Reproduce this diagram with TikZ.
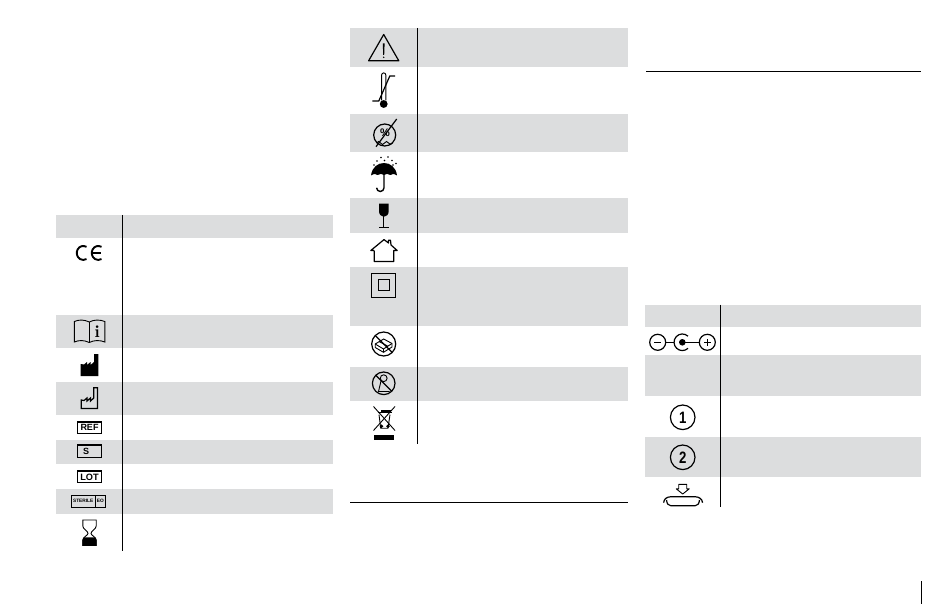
\documentclass[tikz,border=0pt]{standalone}
\usepackage{fontspec}
\setmainfont{Liberation Sans}
\tikzset{
  band/.style={fill=bandgray,draw=none},
  divline/.style={draw=black,line width=1.3pt},
  rulerline/.style={draw=black,line width=0.8pt},
  icon/.style={draw=black,line width=1.2pt,line join=miter},
  thinicon/.style={draw=black,line width=0.9pt},
  solidicon/.style={fill=black,draw=none},
  boxicon/.style={draw=black,line width=1.2pt},
  label/.style={inner sep=0pt,font=\bfseries}
}
\definecolor{bandgray}{RGB}{220,221,222}
\begin{document}
\begin{tikzpicture}[x=1pt,y=-1pt]
\useasboundingbox (0,0) rectangle (950,604);
% Table 1 bands
\foreach \a/\b in {215/237.5,315/348,382/415,440/463.5,489/514}
  \fill[band] (56,\a) rectangle (333,\b);
\draw[divline] (122.3,215) -- (122.3,551);
% Table 2 bands
\foreach \a/\b in {28/66.7,114/152,198/233,267/326,367/401}
  \fill[band] (350,\a) rectangle (628,\b);
\draw[divline] (417.5,28) -- (417.5,444);
\draw[rulerline] (350,502.3) -- (628,502.3);
% Table 3 bands
\foreach \a/\b in {304.5/327,355/396,437/477}
  \fill[band] (644.5,\a) rectangle (921,\b);
\draw[divline] (720.3,304.5) -- (720.3,507);
\draw[rulerline] (646,71) -- (921,71);
\draw[divline] (921.5,581) -- (921.5,604);
% CE
\draw[black,line width=1.9pt] (86.5,246.9) arc[start angle=60,end angle=300,x radius=6.5,y radius=-7];
\draw[black,line width=1.9pt] (101.5,246.9) arc[start angle=60,end angle=300,x radius=6.5,y radius=-7];
\draw[black,line width=1.6pt] (92.5,253) -- (100.5,253);
% book
\draw[thinicon] (89.3,322) .. controls (84,319.5) and (79,319.5) .. (74.3,321.5) -- (74.3,342)
  .. controls (79,340) and (84,340) .. (89.3,342.5) .. controls (94,340) and (100,340) .. (104.8,342) -- (104.8,321.5)
  .. controls (100,319.5) and (94,319.5) .. (89.3,322) -- cycle;
\draw[thinicon] (89.3,322) -- (89.3,342.5);
\node[label,font=\fontsize{17}{17}\fontfamily{lmr}\bfseries\selectfont] (bookI) at (97.2,331.5) {i};
% factory solid
\fill[solidicon] (80.7,376) -- (80.7,364) -- (84,364.5) -- (87,362) -- (87,365) -- (90.5,362) -- (90.5,365) -- (94,362) -- (94,354) -- (98.3,354) -- (98.3,376) -- cycle;
% factory outline
\draw[icon] (81.2,408.5) -- (81.2,400) -- (84,400.5) -- (87,398) -- (87,401) -- (90.5,398) -- (90.5,401) -- (93.8,398) -- (93.8,387.8) -- (97.5,387.8) -- (97.5,408.5) -- cycle;
% label boxes
\draw[boxicon] (77.2,422) rectangle (101.7,433.3);
\node[label,font=\fontsize{9}{9}\selectfont\bfseries] (refT) at (89.5,427.8) {REF};
\draw[boxicon] (77.2,445) rectangle (101.7,457.7);
\node[label,font=\fontsize{9}{9}\selectfont\bfseries] (sT) at (86,451.3) {S};
\draw[boxicon] (77.2,471) rectangle (101.7,482.7);
\node[label,font=\fontsize{9.2}{9}\selectfont\bfseries] (lotT) at (89.5,476.9) {LOT};
\draw[thinicon] (71.2,495.3) rectangle (105.7,507.2);
\draw[thinicon] (95,495.3) -- (95,507.2);
\node[label,font=\fontsize{4.8}{5}\selectfont\bfseries] (stT) at (83.2,501.3) {STERILE};
\node[label,font=\fontsize{4.8}{5}\selectfont\bfseries] (eoT) at (100.4,501.3) {EO};
% hourglass
\draw[thinicon] (82.8,520) -- (96.2,520) -- (96.2,526) .. controls (96.2,529) and (91,531) .. (91,533.3) .. controls (91,535.5) and (96.2,537) .. (96.2,540) -- (96.2,545.5) -- (82.8,545.5) -- (82.8,540) .. controls (82.8,537) and (88,535.5) .. (88,533.3) .. controls (88,531) and (82.8,529) .. (82.8,526) -- cycle;
\fill[solidicon] (82.4,545.9) -- (82.4,540) .. controls (82.8,539) and (83.5,538) .. (84.5,537.3) -- (94.5,537.3) .. controls (95.5,538) and (96.2,539) .. (96.6,540) -- (96.6,545.9) -- cycle;
% warning
\draw[icon,line join=round] (383.7,34.5) -- (398.8,60.8) -- (368.6,60.8) -- cycle;
\fill[solidicon] (382.8,43.5) -- (384.6,43.5) -- (384.2,55) -- (383.2,55) -- cycle;
\fill[solidicon] (383.7,57.3) circle[radius=0.8];
% thermometer
\draw[thinicon] (381.6,100.5) -- (381.6,75) arc[start angle=180,end angle=360,radius=2.1] -- (385.8,100.5);
\fill[solidicon] (383.7,104) circle[radius=3.9];
\draw[icon] (372.3,101) -- (378.8,101) -- (389.8,76) -- (395,76);
% humidity
\draw[icon] (384.7,135) circle[radius=11];
\draw[icon] (376,146.7) -- (396.7,119);
\node[label,font=\fontsize{11}{11}\selectfont\bfseries] (humP) at (385,132.5) {\%};
\draw[thinicon] (376.5,143) .. controls (378,141) and (379,141) .. (380.5,143) .. controls (382,145) and (383,145) .. (384.5,143) .. controls (386,141) and (387,141) .. (388.5,143) .. controls (390,145) and (391,145) .. (392.5,143);
% umbrella
\fill[solidicon] (371,175.5) .. controls (372,167) and (378,163) .. (384,163) .. controls (390,163) and (396,167) .. (397,175.5) .. controls (394,173.5) and (392,173.5) .. (390.5,175) .. controls (388,173.5) and (386,173.5) .. (384,175) .. controls (382,173.5) and (380,173.5) .. (377.5,175) .. controls (376,173.5) and (374,173.5) .. (371,175.5) -- cycle;
\draw[black,line width=1.4pt] (384,170) -- (384,187.8) arc[start angle=0,end angle=180,x radius=3.7,y radius=3.7];
\foreach \p/\q in {377/161,381/157.5,384.5/160.5,388/157,392/160.5,393/165,374/165,396/163.5}
  \fill[solidicon] (\p,\q) circle[radius=0.8];
% glass
\fill[solidicon] (379,203.7) -- (388.7,203.7) -- (388.7,211) .. controls (388.7,214.5) and (386.5,216.8) .. (383.8,216.8) .. controls (381.2,216.8) and (379,214.5) .. (379,211) -- cycle;
\draw[thinicon] (383.8,216) -- (383.8,227.6);
\draw[thinicon] (379,227.6) -- (388.7,227.6);
% house
\draw[icon,line join=round] (374.2,250.5) -- (374.2,261.5) -- (393.8,261.5) -- (393.8,250.5) -- (397.2,250.5) -- (391,245) -- (390.5,240.3) -- (388.5,240.3) -- (388.5,243) -- (384,239.6) -- (370.8,250.5) -- (374.2,250.5);
% double square
\draw[boxicon] (371.5,273.6) rectangle (395.7,297.3);
\draw[boxicon] (378.4,279.8) rectangle (389.4,290.4);
% no box
\draw[icon] (383.7,344) circle[radius=12];
\draw[thinicon] (375.2,344) -- (383.7,339) -- (392,343.5) -- (392,347) -- (383.5,352.3) -- (375.2,347.5) -- cycle;
\draw[thinicon] (375.2,344) -- (383.5,349) -- (392,343.5);
\draw[thinicon] (383.5,349) -- (383.5,352.3);
\draw[thinicon] (379,341.5) -- (387.5,346);
\draw[icon] (375.2,335.5) -- (392.2,352.5);
% person no-reuse
\draw[icon] (383.7,383.3) circle[radius=11.3];
\draw[thinicon] (383.7,378.2) circle[radius=3.4];
\draw[icon] (375.7,375.3) -- (391.7,391.3);
\draw[thinicon] (381,381) -- (378.5,391.5) -- (389.5,391.5);
% bin
\draw[thinicon] (379,414.5) -- (380.7,428.2) -- (388,428.2) -- (390,414.5);
\draw[thinicon] (377.5,412.8) -- (391.5,412.8);
\fill[solidicon] (380.5,410.2) rectangle (391,413);
\fill[solidicon] (381.5,426.3) circle[radius=1.9];
\fill[solidicon] (388,426.3) circle[radius=1.9];
\draw[thinicon] (373.5,406.5) -- (395,430.5);
\draw[thinicon] (395,406.5) -- (373.5,430.5);
\fill[solidicon] (374,435) rectangle (394,439.7);
% polarity
\draw[icon] (657.7,342.3) circle[radius=8];
\draw[icon] (654.3,342.3) -- (661,342.3);
\draw[icon] (665.7,342.3) -- (674.3,342.3);
\draw[icon] (688,336.2) arc[start angle=47,end angle=313,x radius=8.3,y radius=-8.3];
\fill[solidicon] (682.3,342.3) circle[radius=3.3];
\draw[icon] (682.3,342.3) -- (699.3,342.3);
\draw[icon] (707.3,342.3) circle[radius=8];
\draw[thinicon] (704,342.3) -- (710.6,342.3);
\draw[thinicon] (707.3,339) -- (707.3,345.6);
% numbered
\draw[icon] (682.7,417.3) circle[radius=12.3];
\node[label,font=\fontsize{16.5}{16.5}\selectfont\bfseries,xscale=0.8] (one) at (682.7,417.6) {1};
\draw[icon] (682.7,457.3) circle[radius=12.3];
\node[label,font=\fontsize{16.5}{16.5}\selectfont\bfseries,xscale=0.8] (two) at (682.7,457.6) {2};
% button
\draw[thinicon,line join=round] (678.7,484.3) -- (686.7,484.3) -- (686.7,488.8) -- (689.3,488.8) -- (682.7,494) -- (676.2,488.8) -- (678.7,488.8) -- cycle;
\draw[icon] (663.6,502.7) .. controls (664,498.5) and (667,497) .. (671,496.7) -- (695,496.7) .. controls (699,497) and (702,498.5) .. (702.6,502.7);
\draw[icon] (666.5,500) .. controls (667,503.5) and (668,505.8) .. (671,505.8) -- (695,505.8) .. controls (698,505.8) and (699,503.5) .. (699.5,500);
\end{tikzpicture}
\end{document}
